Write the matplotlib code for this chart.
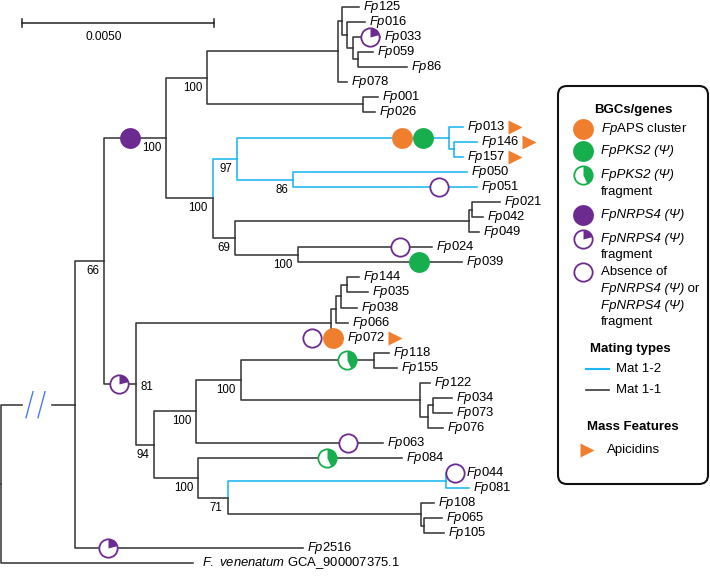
import matplotlib
matplotlib.use("Agg")
import matplotlib.pyplot as plt
from matplotlib.path import Path
from matplotlib.patches import FancyBboxPatch

plt.rcParams['font.family'] = 'Liberation Sans'
plt.rcParams['mathtext.fontset'] = 'custom'
plt.rcParams['mathtext.rm'] = 'Liberation Sans'
plt.rcParams['mathtext.it'] = 'Liberation Sans:italic'
plt.rcParams['mathtext.bf'] = 'Liberation Sans:bold'

# tree, branch lengths in subst./site, internal labels = bootstrap support
NEWICK = """
((
  ((
    ((
      (Fp125:0.00044,(Fp016:0.00047,(Fp033:0.00070,(Fp059:0.00039,Fp86:0.00128):0.00013):0.00016):0.00013):0.00010,
      Fp078:0.00023):0.00341,
     (Fp001:0.00039,Fp026:0.00031):0.00406
    )100:0.00107,
    (
      ((Fp013:0.00036,(Fp146:0.00060,Fp157:0.00023):0.00013):0.00552,
       (Fp050:0.00453,Fp051:0.00479)86:0.00146)97:0.00063,
      (((Fp021:0.00073,Fp042:0.00029):0.00008,Fp049:0.00026):0.00609,
       (Fp024:0.00349,Fp039:0.00427)100:0.00164)69:0.00057
    )100:0.00122
   )100:0.00161,
   (
     ((((Fp144:0.00031,Fp035:0.00055):0.00016,Fp038:0.00042):0.00013,Fp066:0.00031):0.00013,Fp072:0.00031):0.00508,
     (
       (((Fp118:0.00039,Fp155:0.00060):0.00346,
         (Fp122:0.00026,((Fp034:0.00049,Fp073:0.00049):0.00013,Fp076:0.00039):0.00021):0.00466)100:0.00117,
        Fp063:0.00487)100:0.00109,
       (Fp084:0.00531,
        ((Fp044:0.00021,Fp081:0.00060):0.00568,
         (Fp108:0.00034,(Fp065:0.00047,Fp105:0.00052):0.00008):0.00503)71:0.00076)100:0.00115
     )94:0.00047
   )81:0.00083
  )66:0.00076,
  Fp2516:0.00594
 ):0.00193,
 Fven:0.00500
);
"""

# clades given by two tips (their common ancestor)
mat12_clades = [("Fp013", "Fp051"), ("Fp044", "Fp081")]

# (tip, tip, feature, position along the branch leading to the clade)
features = [
    ("Fp125", "Fp039", "nrps", 0.42),
    ("Fp033", "Fp033", "nrps_frag", 0.63),
    ("Fp013", "Fp157", "aps", 0.78),
    ("Fp013", "Fp157", "pks", 0.877),
    ("Fp051", "Fp051", "absent", 0.79),
    ("Fp024", "Fp024", "absent", 0.76),
    ("Fp039", "Fp039", "pks", 0.74),
    ("Fp144", "Fp105", "nrps_frag", 0.47),
    ("Fp072", "Fp072", "aps", 0.17),
    ("Fp072", "Fp072", "absent", -1.58),
    ("Fp118", "Fp155", "pks_frag", 0.80),
    ("Fp063", "Fp063", "absent", 0.81),
    ("Fp084", "Fp084", "pks_frag", 0.63),
    ("Fp044", "Fp044", "absent", 1.1),
    ("Fp2516", "Fp2516", "nrps_frag", 0.145),
]
apicidin_tips = ["Fp013", "Fp146", "Fp157", "Fp072"]
support_right = [("Fp144", "Fp105")]
tip_names = {"Fven": r"$\mathit{F.\ venenatum}$ GCA_900007375.1"}
scale_len = 0.005

ORANGE = "#F07E2F"
GREEN = "#17AE4E"
PXX = 0.005 / 192   # subst./site per pixel
PXY = 1 / 15.05     # tip rows per pixel
PURPLE = "#6C2B90"
BLUE = "#1CB6F0"
LINE = "#3a3a3a"
LW = 1.15


def parse(s):
    s = "".join(s.split())
    pos = 0

    def clade():
        nonlocal pos
        node = {"children": [], "name": "", "length": 0.0, "parent": None}
        if s[pos] == "(":
            pos += 1
            while True:
                child = clade()
                child["parent"] = node
                node["children"].append(child)
                pos += 1
                if s[pos - 1] == ")":
                    break
        start = pos
        while s[pos] not in ":,);":
            pos += 1
        node["name"] = s[start:pos]
        if s[pos] == ":":
            pos += 1
            start = pos
            while s[pos] not in ",);":
                pos += 1
            node["length"] = float(s[start:pos])
        return node
    return clade()


root = parse(NEWICK)
tips = []


def place(node, x):
    node["x"] = x + node["length"]
    if node["children"]:
        for c in node["children"]:
            place(c, node["x"])
        node["y"] = (node["children"][0]["y"] + node["children"][-1]["y"]) / 2
    else:
        node["y"] = len(tips)
        tips.append(node)


place(root, 0.0)
by_name = {t["name"]: t for t in tips}


def walk(n):
    yield n
    for c in n["children"]:
        yield from walk(c)


def ancestors(n):
    out = []
    while n is not None:
        out.append(n)
        n = n["parent"]
    return out


def mrca(a, b):
    ids = {id(n) for n in ancestors(by_name[a])}
    for n in ancestors(by_name[b]):
        if id(n) in ids:
            return n


for a, b in mat12_clades:
    for n in walk(mrca(a, b)):
        n["blue"] = True


def feature_marker(ax, x, y, kind):
    col = {"aps": ORANGE, "pks": GREEN, "pks_frag": GREEN,
           "nrps": PURPLE, "nrps_frag": PURPLE, "absent": PURPLE}[kind]
    if kind in ("aps", "pks", "nrps"):
        ax.plot(x, y, "o", ms=15, mfc=col, mec="none", zorder=5)
        return
    ax.plot(x, y, "o", ms=13.2, mfc="white", mec=col, mew=1.3, zorder=5)
    if kind == "pks_frag":
        ax.plot(x, y, marker=Path.wedge(-65, 90), ms=13.2, mfc=col, mec="none", ls="none", zorder=6)
    if kind == "nrps_frag":
        ax.plot(x, y, marker=Path.wedge(15, 90), ms=13.2, mfc=col, mec="none", ls="none", zorder=6)


fig = plt.figure(figsize=(7.1, 5.78), dpi=100)
ax = fig.add_axes([0, 0, 1, 1])
ax.set_xlim(-1 * PXX, 709 * PXX)
ax.set_ylim(571.5 * PXY, -6.5 * PXY)
ax.axis("off")

# branches
for n in walk(root):
    p = n["parent"]
    if p is None:
        continue
    col = BLUE if n.get("blue") else LINE
    if p is root and n["children"]:
        # broken long branch
        ax.plot([p["x"], p["x"], p["x"] + 21 * PXX], [p["y"], n["y"], n["y"]], color=col, lw=LW)
        ax.plot([p["x"] + 51 * PXX, n["x"]], [n["y"], n["y"]], color=col, lw=LW)
        for c in (28.5, 40.5):
            ax.plot([p["x"] + (c + 3.5) * PXX, p["x"] + (c - 3.5) * PXX],
                    [n["y"] - 13 * PXY, n["y"] + 13 * PXY], color="#4C7FD6", lw=1)
    else:
        ax.plot([p["x"], p["x"], n["x"]], [p["y"], n["y"], n["y"]], color=col, lw=LW)

# bootstrap support
right_nodes = [mrca(a, b) for a, b in support_right]
for n in walk(root):
    if n["children"] and n["name"] and n["parent"] is not None:
        if any(n is r for r in right_nodes):
            ax.annotate(n["name"], (n["x"], n["y"]), xytext=(4 * 0.72, -6 * 0.72),
                        textcoords="offset points", ha="left", va="baseline", fontsize=8.3)
        else:
            ax.annotate(n["name"], (n["x"], n["y"]), xytext=(-5 * 0.72, -13 * 0.72),
                        textcoords="offset points", ha="right", va="baseline", fontsize=8.3)

for a, b, kind, f in features:
    n = mrca(a, b)
    p = n["parent"]
    feature_marker(ax, p["x"] + f * (n["x"] - p["x"]), n["y"], kind)

for t in tips:
    name = t["name"]
    label = tip_names.get(name, r"$\mathit{Fp}$" + name[2:])
    gap = {"Fven": 9, "Fp044": 12}.get(name, 4)
    ax.annotate(label, (t["x"], t["y"]), xytext=(gap * 0.72, 0), textcoords="offset points",
                ha="left", va="center", fontsize=9.4)

for name in apicidin_tips:
    t = by_name[name]
    ax.plot(t["x"] + 52 * PXX, t["y"], ">", ms=9.5, color=ORANGE, mec="none")

# scale bar
x0, y0 = 21 * PXX, 16.5 * PXY
ax.plot([x0, x0 + scale_len], [y0, y0], color="#222222", lw=1.1)
for xx in (x0, x0 + scale_len):
    ax.plot([xx, xx], [y0 - 4 * PXY, y0 + 4 * PXY], color="#222222", lw=1.1)
ax.text(x0 + 82 * PXX, y0 + 14 * PXY, f"{scale_len:.4f}", ha="center", va="center", fontsize=8.6)

# legend (pixel coordinates)
lax = fig.add_axes([0, 0, 1, 1])
lax.set_xlim(0, 710)
lax.set_ylim(578, 0)
lax.axis("off")
lax.add_patch(FancyBboxPatch((558, 86), 150, 398, boxstyle="round,pad=0,rounding_size=9",
                             fc="white", ec="#111111", lw=1.5))
fs = 9.5
lax.text(633, 110, "BGCs/genes", ha="center", va="center", fontsize=fs, fontweight="bold")
feature_marker(lax, 583, 129, "aps")
lax.text(601, 129, r"$\mathit{Fp}$APS cluster", va="center", fontsize=fs)
feature_marker(lax, 583, 151, "pks")
lax.text(601, 151, "FpPKS2 (Ψ)", va="center", fontsize=fs, style="italic")
feature_marker(lax, 583, 175, "pks_frag")
lax.text(601, 175, "FpPKS2 (Ψ)", va="center", fontsize=fs, style="italic")
lax.text(601, 192, "fragment", va="center", fontsize=fs)
feature_marker(lax, 583, 215, "nrps")
lax.text(601, 215, "FpNRPS4 (Ψ)", va="center", fontsize=fs, style="italic")
feature_marker(lax, 583, 239, "nrps_frag")
lax.text(601, 239, "FpNRPS4 (Ψ)", va="center", fontsize=fs, style="italic")
lax.text(601, 255, "fragment", va="center", fontsize=fs)
feature_marker(lax, 583, 272, "absent")
lax.text(601, 272, "Absence of", va="center", fontsize=fs)
t = lax.text(601, 289, "FpNRPS4 (Ψ)", va="center", fontsize=fs, style="italic")
lax.annotate(" or", xy=(1, 0), xycoords=t, va="bottom", ha="left", fontsize=fs)
lax.text(601, 306, "FpNRPS4 (Ψ)", va="center", fontsize=fs, style="italic")
lax.text(601, 322, "fragment", va="center", fontsize=fs)

lax.text(630, 349, "Mating types", ha="center", va="center", fontsize=fs, fontweight="bold")
lax.plot([586, 609], [369, 369], color=BLUE, lw=1.5)
lax.text(616, 369, "Mat 1-2", va="center", fontsize=fs)
lax.plot([586, 609], [390, 390], color=LINE, lw=1.2)
lax.text(616, 390, "Mat 1-1", va="center", fontsize=fs)

lax.text(633, 427, "Mass Features", ha="center", va="center", fontsize=fs, fontweight="bold")
lax.plot(587, 450, ">", ms=9.5, color=ORANGE, mec="none")
lax.text(607, 450, "Apicidins", va="center", fontsize=fs)

fig.savefig("out.png", dpi=100)
